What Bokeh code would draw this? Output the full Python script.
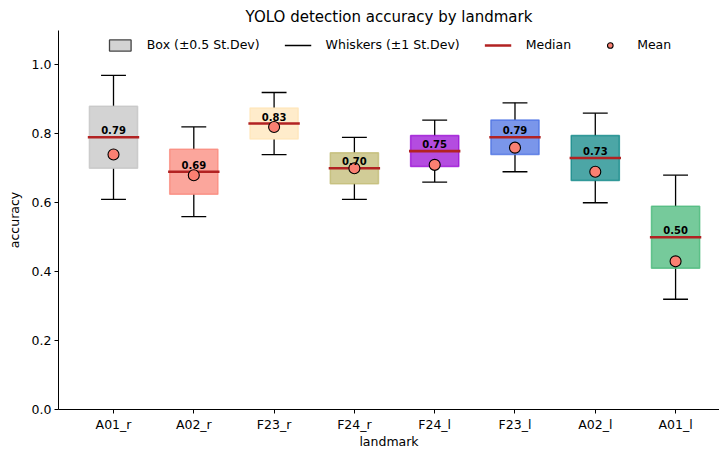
from bokeh.plotting import figure
from bokeh.models import (ColumnDataSource, Range1d, FixedTicker, Legend, LegendItem,
                          NumeralTickFormatter)
from bokeh.core.properties import value
from bokeh.embed import file_html
from bokeh.resources import INLINE

landmarks = ["A01_r", "A02_r", "F23_r", "F24_r", "F24_l", "F23_l", "A02_l", "A01_l"]
medians = [0.79, 0.69, 0.83, 0.70, 0.75, 0.79, 0.73, 0.50]
std_devs = [0.18, 0.13, 0.09, 0.09, 0.09, 0.10, 0.13, 0.18]
means = [0.74, 0.68, 0.82, 0.70, 0.71, 0.76, 0.69, 0.43]
colors = ["silver", "salmon", "moccasin", "darkkhaki", "darkviolet",
          "royalblue", "teal", "mediumseagreen"]
y_ticks = [0.0, 0.2, 0.4, 0.6, 0.8, 1.0]

FONT = "DejaVu Sans"
xs = list(range(len(landmarks)))
box_w = 0.30
cap_w = 0.155

src = ColumnDataSource(dict(
    x=xs,
    left=[x - box_w for x in xs],
    right=[x + box_w for x in xs],
    med_l=[x - box_w - 0.02 for x in xs],
    med_r=[x + box_w + 0.02 for x in xs],
    cap_l=[x - cap_w for x in xs],
    cap_r=[x + cap_w for x in xs],
    median=medians,
    mean=means,
    box_lo=[m - 0.5 * s for m, s in zip(medians, std_devs)],
    box_hi=[m + 0.5 * s for m, s in zip(medians, std_devs)],
    wh_lo=[m - s for m, s in zip(medians, std_devs)],
    wh_hi=[m + s for m, s in zip(medians, std_devs)],
    color=colors,
    label=[f"{m:.2f}" for m in medians],
))

p = figure(frame_width=661, frame_height=379, output_backend="svg", toolbar_location=None,
           x_range=Range1d(-0.685, 7.547), y_range=Range1d(0, 1.1),
           title="YOLO detection accuracy by landmark",
           min_border_left=58, min_border_right=0, min_border_top=22, min_border_bottom=0)
p.outline_line_color = None
p.xgrid.visible = False
p.ygrid.visible = False
p.background_fill_color = "white"

p.title.text_font = FONT
p.title.text_font_size = "15px"
p.title.text_font_style = "normal"
p.title.align = "center"
p.title.text_color = "black"

# whiskers
p.segment(x0="x", x1="x", y0="wh_lo", y1="box_lo", source=src, line_color="black", line_width=1.3)
p.segment(x0="x", x1="x", y0="box_hi", y1="wh_hi", source=src, line_color="black", line_width=1.3)
p.segment(x0="cap_l", x1="cap_r", y0="wh_lo", y1="wh_lo", source=src, line_color="black", line_width=1.3)
p.segment(x0="cap_l", x1="cap_r", y0="wh_hi", y1="wh_hi", source=src, line_color="black", line_width=1.3)

# boxes
p.quad(left="left", right="right", bottom="box_lo", top="box_hi", source=src,
       fill_color="color", fill_alpha=0.7, line_color="color", line_alpha=0.7, line_width=1.5)

# medians
p.segment(x0="med_l", x1="med_r", y0="median", y1="median", source=src,
          line_color="#b22222", line_width=2.6)

# means
p.scatter(x="x", y="mean", source=src, size=11, marker="circle",
          fill_color="salmon", line_color="black", line_width=1.1)

# median labels
p.text(x="x", y="median", text="label", source=src, text_font=value(FONT),
       text_font_style="bold", text_font_size="10px", text_align="center",
       text_baseline="bottom", y_offset=-3, text_color="black")

# legend proxies (placed outside the visible range)
off = [-10.0]
r_box = p.quad(left=off, right=off, bottom=off, top=off, fill_color="lightgray",
               line_color="#444444", line_width=1.3)
r_wh = p.line(x=off, y=off, line_color="black", line_width=1.3)
r_med = p.line(x=off, y=off, line_color="#b22222", line_width=2.6)
r_mean = p.scatter(x=off, y=off, size=12, marker="circle", fill_color="salmon",
                   line_color="black", line_width=1.1)

legend = Legend(items=[
    LegendItem(label="Box (±0.5 St.Dev)", renderers=[r_box]),
    LegendItem(label="Whiskers (±1 St.Dev)", renderers=[r_wh]),
    LegendItem(label="Median", renderers=[r_med]),
    LegendItem(label="Mean", renderers=[r_mean]),
], location="top_center", orientation="horizontal")
legend.border_line_color = None
legend.background_fill_alpha = 0
legend.label_text_font = FONT
legend.label_text_font_size = "12.5px"
legend.label_text_color = "black"
legend.glyph_width = 27
legend.glyph_height = 14
legend.label_height = 14
legend.label_standoff = 14
legend.spacing = 25
legend.padding = 5
legend.margin = 7
p.add_layout(legend, "center")

# axes
p.xaxis.ticker = FixedTicker(ticks=xs)
p.xaxis.major_label_overrides = {i: s for i, s in enumerate(landmarks)}
p.yaxis.ticker = FixedTicker(ticks=y_ticks)
p.yaxis.formatter = NumeralTickFormatter(format="0.0")
for ax in (p.xaxis, p.yaxis):
    ax.axis_line_color = "black"
    ax.axis_line_width = 1
    ax.major_tick_line_color = "black"
    ax.major_tick_out = 4
    ax.major_tick_in = 0
    ax.minor_tick_out = 0
    ax.minor_tick_in = 0
    ax.major_label_text_font = FONT
    ax.major_label_text_font_size = "12.5px"
    ax.major_label_text_color = "black"
    ax.axis_label_text_font = FONT
    ax.axis_label_text_font_size = "12.5px"
    ax.axis_label_text_font_style = "normal"
    ax.axis_label_text_color = "black"
    ax.major_label_standoff = 3
p.xaxis.axis_label = "landmark"
p.yaxis.axis_label = "accuracy"
p.xaxis.axis_label_standoff = -1
p.yaxis.axis_label_standoff = 7

open("out.html", "w").write(file_html(p, INLINE))
